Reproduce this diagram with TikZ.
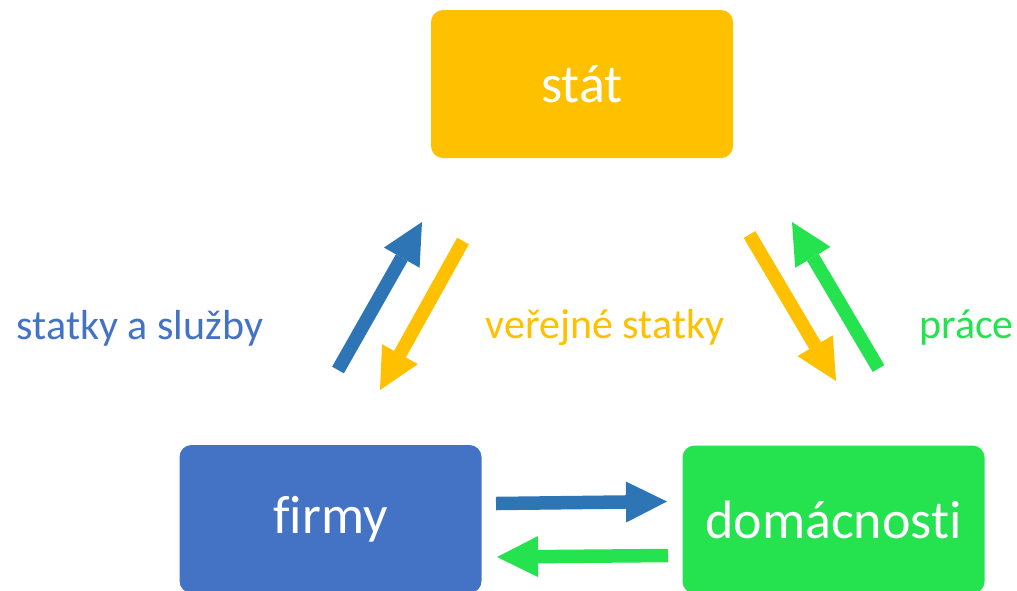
\documentclass[tikz,border=0pt]{standalone}
\usepackage{fontspec}
\setmainfont[Ligatures={NoCommon}]{Carlito}
\usetikzlibrary{arrows.meta}
\definecolor{cyellow}{HTML}{FFC000}
\definecolor{cblue}{HTML}{4472C4}
\definecolor{cgreen}{HTML}{25E24F}
\definecolor{carrowblue}{HTML}{2E75B6}
\tikzset{
  box/.style={rounded corners=12pt, minimum width=302pt, minimum height=148pt, inner sep=0pt,
    text=white, font=\fontsize{54}{64}\selectfont},
  blockarrow/.style={line width=13.5pt, -{Triangle[length=41pt,width=41pt,line width=0pt]}},
  lbl/.style={font=\fontsize{42}{50}\selectfont, inner sep=0pt}
}
\begin{document}
\begin{tikzpicture}[x=1pt,y=-1pt]
\useasboundingbox (0,0) rectangle (1017,590);
\clip (0,0) rectangle (1017,590);
\node[box, fill=cyellow] (stat) at (582,84) {stát};
\node[box, fill=cblue] (firmy) at (330.5,519) {firmy};
\node[box, fill=cgreen] (domac) at (833.5,519.5) {domácnosti};
% left pair
\coordinate (a1s) at (338,370);
\coordinate (a1e) at (422,222);
\coordinate (a2s) at (463,241);
\coordinate (a2e) at (380,390);
% right pair
\coordinate (a3s) at (749.5,234.5);
\coordinate (a3e) at (836,381);
\coordinate (a4s) at (878.5,368.5);
\coordinate (a4e) at (792,222);
% bottom pair
\coordinate (a5s) at (496,503.5);
\coordinate (a5e) at (667,501.5);
\coordinate (a6s) at (668,555.5);
\coordinate (a6e) at (497,557);
\draw[blockarrow, carrowblue] (a1s) -- (a1e);
\draw[blockarrow, cyellow] (a2s) -- (a2e);
\draw[blockarrow, cyellow] (a3s) -- (a3e);
\draw[blockarrow, cgreen] (a4s) -- (a4e);
\draw[blockarrow, carrowblue] (a5s) -- (a5e);
\draw[blockarrow, cgreen] (a6s) -- (a6e);
\node[lbl, text=cblue] (l1) at (140,328) {statky a služby};
\node[lbl, text=cyellow] (l2) at (605,328) {veřejné statky};
\node[lbl, text=cgreen] (l3) at (966.5,328) {práce};
\end{tikzpicture}
\end{document}
